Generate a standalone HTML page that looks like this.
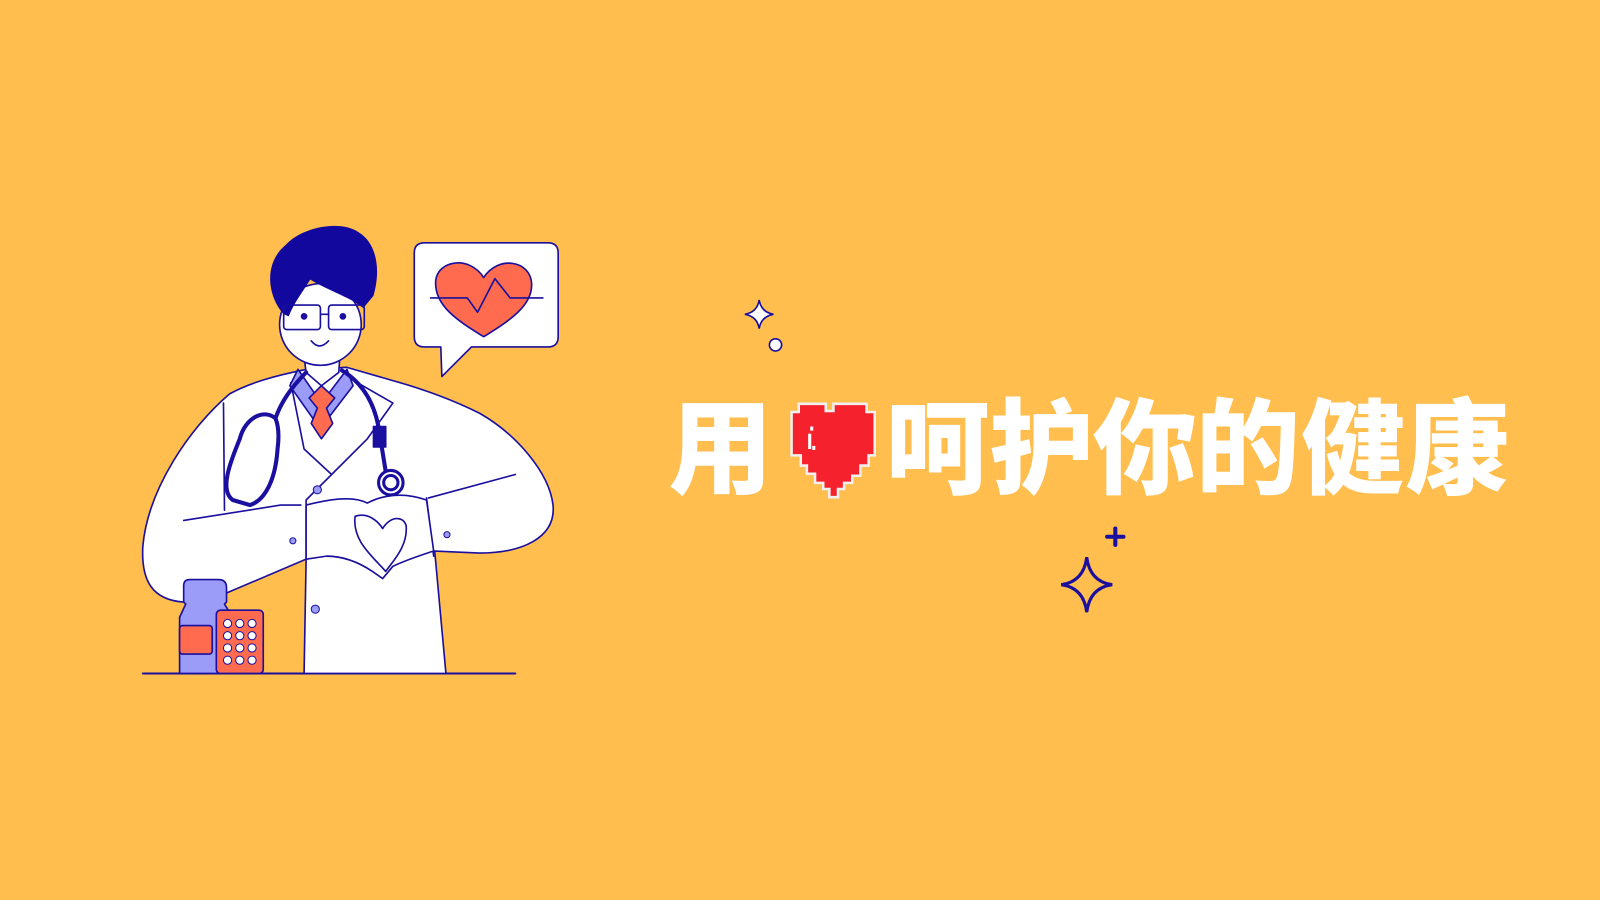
<!DOCTYPE html>
<html><head><meta charset="utf-8"><style>
html,body{margin:0;padding:0;background:#FFBE4D;}
svg{display:block;}
</style></head><body>
<svg width="1600" height="900" viewBox="0 0 1568 882" preserveAspectRatio="none" xmlns="http://www.w3.org/2000/svg">
<rect x="0" y="0" width="1568" height="882" fill="#FFBE4D"/>
<g stroke="#1a0f9e" stroke-width="1.6" stroke-linejoin="round" stroke-linecap="round">
  <line x1="140" y1="660" x2="505" y2="660" stroke-width="2"/>
  <path fill="#fff" d="M300,362 C270,368 245,375 225,386 C185,420 145,480 140,535 C138,570 150,588 180,590 L220,582 L300,548 L298,660 L437,660 L426,540 L470,542 C510,542 545,528 542,495 C538,462 505,425 470,405 C440,390 410,380 385,373 L340,360 Z"/>
  <path fill="none" d="M180,510 L275,495 L300,495"/>
  <path fill="none" d="M505,465 L420,488 M425,545 L418,488"/>
  <path fill="#fff" d="M285,375 L298,440 L325,465 L300,490 L300,548 M345,372 L385,395 L360,430 L325,465"/>
  <line x1="219" y1="395" x2="220" y2="500"/>
  <circle cx="311" cy="480" r="4" fill="#9b9cf7" stroke-width="1"/>
  <circle cx="309" cy="597" r="4" fill="#9b9cf7" stroke-width="1"/>
  <circle cx="287" cy="530" r="3" fill="#9b9cf7" stroke-width="1"/>
  <circle cx="438" cy="524" r="3" fill="#9b9cf7" stroke-width="1"/>
  <path fill="#9b9cf7" d="M292,362 L315,395 L340,362 L346,378 L320,412 L308,412 L284,378 Z"/>
  <path fill="#ff6b4f" d="M303,390 L315,378 L328,390 L320,400 L326,415 L315,430 L305,415 L311,400 Z"/>
  <path fill="#fff" d="M298,350 L300,365 L315,378 L332,365 L333,350 Z"/>
  <circle cx="314" cy="318" r="40" fill="#fff"/>
  <path fill="#12089e" stroke="none" d="M278,308 C262,290 258,258 280,240 C296,222 335,215 352,228 C368,238 374,262 366,290 L356,302 C345,292 322,285 304,274 C296,287 288,297 283,310 Z"/>
  <g fill="none">
    <rect x="278" y="299" width="36" height="24" rx="3"/>
    <rect x="322" y="299" width="35" height="24" rx="3"/>
    <line x1="314" y1="308" x2="322" y2="308"/>
  </g>
  <circle cx="298" cy="310" r="2.5" fill="#1a0f9e"/>
  <circle cx="336" cy="310" r="2.5" fill="#1a0f9e"/>
  <path fill="none" d="M305,334 Q313,344 322,334"/>
  <path fill="none" stroke-width="4" d="M300,365 C285,380 275,395 270,410 C258,400 240,410 235,430 C225,455 215,480 228,490 L245,495 C260,490 270,470 272,440 C274,425 272,415 270,410 M335,363 C355,375 368,395 372,425 L378,462"/>
  <rect x="366" y="418" width="12" height="20" fill="#1a0f9e"/>
  <circle cx="383" cy="473" r="12" fill="#fff" stroke-width="3"/>
  <circle cx="383" cy="473" r="7" fill="#fff" stroke-width="3"/>
  <path fill="#fff" d="M300,495 C320,490 345,485 360,493 C375,485 395,482 418,490 L425,540 C410,545 400,548 385,555 L375,567 L365,560 C350,550 335,545 320,545 L300,548 Z"/>
  <path fill="#fff" d="M348,506 C360,502 370,510 375,518 C382,506 395,505 398,515 C400,535 385,550 378,560 C365,545 345,530 348,506 Z"/>
  <path fill="#9b9cf7" d="M186,568 L214,568 Q222,568 222,576 L222,590 L220,592 L228,605 L228,660 L176,660 L176,605 L182,592 L180,590 L180,574 Q180,568 186,568 Z"/>
  <rect x="176" y="613" width="32" height="28" rx="3" fill="#ff6b4f"/>
  <rect x="212" y="598" width="46" height="62" rx="4" fill="#ff6b4f"/>
  <g fill="#fff" stroke-width="1">
    <circle cx="223" cy="611" r="4"/><circle cx="235" cy="611" r="4"/><circle cx="247" cy="611" r="4"/>
    <circle cx="223" cy="623" r="4"/><circle cx="235" cy="623" r="4"/><circle cx="247" cy="623" r="4"/>
    <circle cx="223" cy="635" r="4"/><circle cx="235" cy="635" r="4"/><circle cx="247" cy="635" r="4"/>
    <circle cx="223" cy="647" r="4"/><circle cx="235" cy="647" r="4"/><circle cx="247" cy="647" r="4"/>
  </g>
  <path fill="#fff" d="M416,238 L537,238 Q547,238 547,248 L547,330 Q547,340 537,340 L462,340 L433,369 L432,340 L416,340 Q406,340 406,330 L406,248 Q406,238 416,238 Z"/>
  <path fill="#ff6b4f" d="M474,330 C450,315 425,300 427,275 C429,255 460,250 474,272 C488,250 520,255 521,278 C522,300 498,315 474,330 Z"/>
  <path fill="none" d="M422,292 L458,292 L468,306 L485,273 L500,292 L532,292"/>
</g>
<g fill="#fff" stroke="#1a0f9e" stroke-width="1.6">
  <path d="M744,294 Q746,306 758,308 Q746,310 744,322 Q742,310 730,308 Q742,306 744,294 Z"/>
  <circle cx="760" cy="338" r="6"/>
  <path fill="none" stroke-width="3" d="M1065,546 Q1068,570 1090,573 Q1068,576 1065,600 Q1062,576 1040,573 Q1062,570 1065,546 Z"/>
  <path stroke-width="4" stroke-linecap="round" d="M1093,518 L1093,534 M1085,526 L1101,526"/>
</g>
<g fill="#fff" font-family="'Noto Sans CJK SC','WenQuanYi Zen Hei',sans-serif" font-weight="900" font-size="102" text-anchor="middle">
  <text x="706" y="476">用</text>
  <text x="919" y="476">呵</text>
  <text x="1021" y="476">护</text>
  <text x="1122" y="476">你</text>
  <text x="1223" y="476">的</text>
  <text x="1326" y="476">健</text>
  <text x="1428" y="476">康</text>
</g>
<g>
  <path fill="#f5222d" stroke="#f0f0f0" stroke-width="5" paint-order="stroke" d="M784,397 L808,397 L808,404 L818,404 L818,397 L848,397 L848,405 L856,405 L856,445 L850,445 L850,455 L842,455 L842,465 L834,465 L834,472 L826,472 L826,478 L820,478 L820,486 L814,486 L814,478 L808,478 L808,472 L800,472 L800,463 L792,463 L792,455 L786,455 L786,445 L777,445 L777,405 L784,405 Z"/>
  <rect x="794" y="418" width="3" height="4" fill="#fff"/>
  <rect x="792" y="425" width="3" height="15" fill="#fff"/>
  <rect x="796" y="437" width="3" height="4" fill="#fff"/>
</g>
</svg>
</body></html>
